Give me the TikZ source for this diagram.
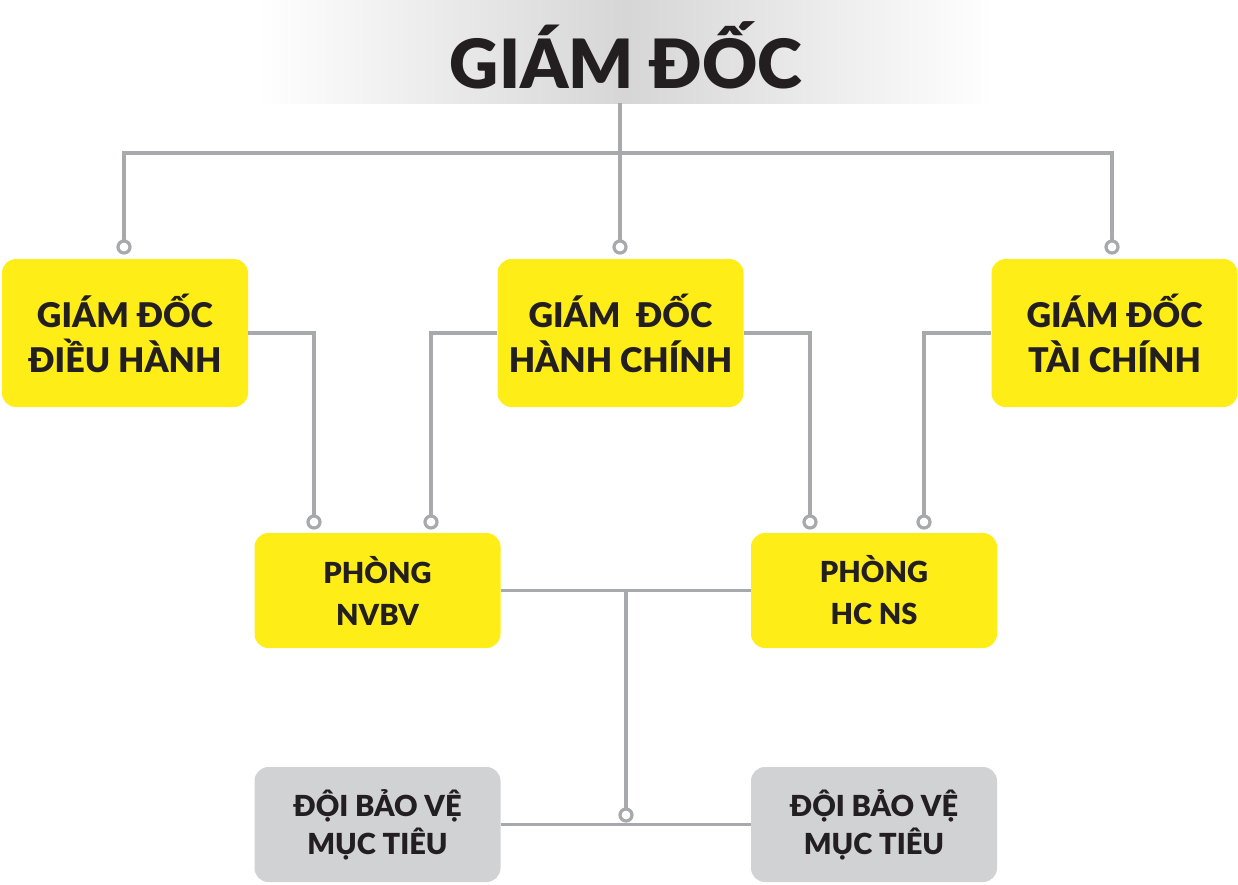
\documentclass[tikz,border=0pt]{standalone}
\usepackage{fontspec}
\setmainfont{Lato}[BoldFont={Lato Black}]
\definecolor{ylw}{HTML}{FFED18}
\definecolor{gbox}{HTML}{D1D2D4}
\definecolor{ln}{HTML}{A7A9AC}
\definecolor{txt}{HTML}{231F20}
\definecolor{hdrgray}{HTML}{D6D6D6}
\begin{document}
\begin{tikzpicture}[x=1pt,y=-1pt,
  box/.style={rounded corners=14pt, minimum width=246pt, inner sep=0pt, align=center, text=txt},
  topbox/.style={box, fill=ylw, minimum height=148pt, font=\bfseries\fontsize{34}{45}\selectfont},
  midbox/.style={box, fill=ylw, minimum height=115pt, font=\bfseries\fontsize{29}{42}\selectfont},
  lowbox/.style={box, fill=gbox, minimum height=115pt, font=\bfseries\fontsize{29}{38}\selectfont},
  conn/.style={draw=ln, line width=3.8pt},
  dot/.style={circle, draw=ln, fill=white, line width=3.2pt, minimum size=12pt, inner sep=0pt}]
\useasboundingbox (0,0) rectangle (1238,884);
% header band
\node[minimum width=737pt, minimum height=103pt, inner sep=0pt,
      left color=white, right color=white, middle color=hdrgray] (band) at (626.5,51.5) {};
\node[anchor=base, text=txt, font=\bfseries\fontsize{68}{68}\selectfont] (hdr) at (626,88) {GIÁM ĐỐC};
% boxes
\node[topbox] (b1) at (125,333) {GIÁM ĐỐC\\ĐIỀU HÀNH};
\node[topbox] (b2) at (620.5,333) {GIÁM\ \ ĐỐC\\HÀNH CHÍNH};
\node[topbox] (b3) at (1114.5,333) {GIÁM ĐỐC\\TÀI CHÍNH};
\node[midbox] (b4) at (377.5,590.5) {PHÒNG\\NVBV};
\node[midbox] (b5) at (874,590.5) {PHÒNG\\HC NS};
\node[lowbox] (b6) at (377.5,824.5) {ĐỘI BẢO VỆ\\MỤC TIÊU};
\node[lowbox] (b7) at (874,824.5) {ĐỘI BẢO VỆ\\MỤC TIÊU};
% dot positions
\coordinate (d1) at (124,247);
\coordinate (d2) at (620,247);
\coordinate (d3) at (1112,247);
\coordinate (d4) at (314,522);
\coordinate (d5) at (431,522);
\coordinate (d6) at (810,522);
\coordinate (d7) at (924,522);
\coordinate (d8) at (626,815);
\coordinate (j) at (626,590.5);
% connectors
\draw[conn] (band.south -| d2) -- (d2);
\draw[conn] (d1) -- ++(0,-94) -| (d3);
\draw[conn] (b1.east) -| (d4);
\draw[conn] (b2.west) -| (d5);
\draw[conn] (b2.east) -| (d6);
\draw[conn] (b3.west) -| (d7);
\draw[conn] (b4.east) -- (b5.west);
\draw[conn] (j) -- (d8);
\draw[conn] (b6.east) -- (b7.west);
% dots
\foreach \d in {d1,d2,d3,d4,d5,d6,d7,d8} \node[dot] at (\d) {};
\end{tikzpicture}
\end{document}
